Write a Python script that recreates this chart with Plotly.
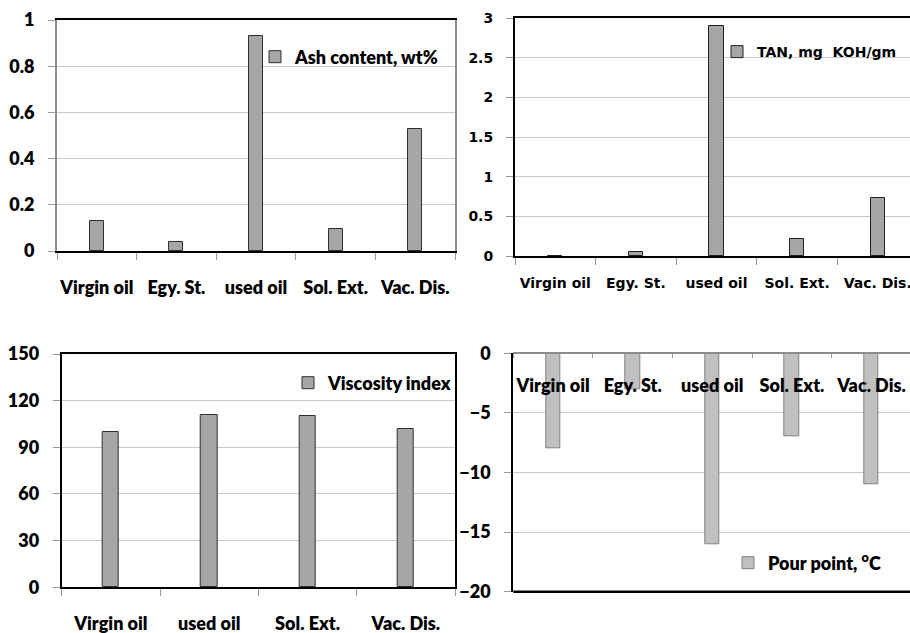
import plotly.graph_objects as go

W, H = 910, 633

# ---------------- data ----------------
cats5 = ["Virgin oil", "Egy. St.", "used oil", "Sol. Ext.", "Vac. Dis."]
cats4 = ["Virgin oil", "used oil", "Sol. Ext.", "Vac. Dis."]
ash = [0.13, 0.037, 0.93, 0.094, 0.53]
tan = [0.0, 0.05, 2.9, 0.21, 0.73]
vi = [100, 111, 110, 102]
pour = [-8, -3, -16, -7, -11]

ash_ticks = [0, 0.2, 0.4, 0.6, 0.8, 1]
ash_labels = ["0", "0.2", "0.4", "0.6", "0.8", "1"]
tan_ticks = [0, 0.5, 1, 1.5, 2, 2.5, 3]
tan_labels = ["0", "0.5", "1", "1.5", "2", "2.5", "3"]
vi_ticks = [0, 30, 60, 90, 120, 150]
pour_ticks = [-20, -15, -10, -5, 0]

CAL = "Lato, 'Liberation Sans', Arial, sans-serif"
VER = "'DejaVu Sans', Verdana, sans-serif"

def dx(a, b):
    return [a / W, b / W]

def dy(top, bottom):
    return [1 - bottom / H, 1 - top / H]

fig = go.Figure()

BAR_DARK = "#A6A6A6"
fig.add_trace(go.Bar(x=cats5, y=ash, name="Ash content, wt%", width=0.175,
                     marker=dict(color=BAR_DARK, line=dict(color="#303030", width=1)),
                     xaxis="x", yaxis="y", legend="legend"))
fig.add_trace(go.Bar(x=cats5, y=tan, name="TAN, mg\u00a0 KOH/gm", width=0.174,
                     marker=dict(color=BAR_DARK, line=dict(color="#202020", width=1)),
                     xaxis="x2", yaxis="y2", legend="legend2"))
fig.add_trace(go.Bar(x=cats4, y=vi, name="Viscosity index", width=0.166,
                     marker=dict(color=BAR_DARK, line=dict(color="#303030", width=1)),
                     xaxis="x3", yaxis="y3", legend="legend3"))
fig.add_trace(go.Bar(x=cats5, y=pour, name="Pour point, <sup>o</sup>C", width=0.18,
                     marker=dict(color="#C0C0C0", line=dict(color="#808080", width=1)),
                     xaxis="x4", yaxis="y4", legend="legend4"))

GRID = "#C8C8C8"
cal_font = dict(family=CAL, size=18, color="black", weight=800)
ver_font = dict(family=VER, size=14, color="black", weight="bold")

common = dict(automargin=False)

# Panel 1
fig.update_layout(
    xaxis=dict(domain=dx(57, 455), anchor="y", type="category", range=[-0.5, 4.5],
               tickson="boundaries", ticks="outside", ticklen=7, tickcolor="#999999",
               showline=True, linecolor="black", linewidth=2, mirror=True, tickangle=0,
               showgrid=False, tickfont=cal_font, ticklabelstandoff=19, **common),
    yaxis=dict(domain=dy(20, 251), anchor="x", range=[0, 1], tickvals=ash_ticks,
               ticktext=ash_labels, ticks="outside", ticklen=7, tickcolor="#999999",
               showline=True, linecolor="#8C8C8C", linewidth=2, mirror=True,
               showgrid=True, gridcolor=GRID, zeroline=False,
               tickfont=cal_font, ticklabelstandoff=10, **common),
)
# Panel 2
fig.update_layout(
    xaxis2=dict(domain=dx(515, 910), anchor="y2", type="category",
                range=[-0.5, -0.5 + 395 / 80.6], tickangle=0,
                tickson="boundaries", ticks="outside", ticklen=7, tickcolor="#999999",
                showline=True, linecolor="black", linewidth=2, mirror=True,
                showgrid=False, tickfont=ver_font, ticklabelstandoff=13, **common),
    yaxis2=dict(domain=dy(18, 256), anchor="x2", range=[0, 3], tickvals=tan_ticks,
                ticktext=tan_labels, ticks="outside", ticklen=7, tickcolor="#999999",
                showline=True, linecolor="black", linewidth=2,
                showgrid=True, gridcolor=GRID, zeroline=False,
                tickfont=ver_font, ticklabelstandoff=10, **common),
)
# Panel 3
fig.update_layout(
    xaxis3=dict(domain=dx(61.7, 455), anchor="y3", type="category", range=[-0.5, 3.5],
                tickson="boundaries", ticks="outside", ticklen=7, tickcolor="#999999",
                showline=True, linecolor="black", linewidth=2, mirror=True, tickangle=0,
                showgrid=False, tickfont=cal_font, ticklabelstandoff=19, **common),
    yaxis3=dict(domain=dy(354, 587.3), anchor="x3", range=[0, 150], tickvals=vi_ticks,
                ticks="outside", ticklen=7, tickcolor="#999999",
                showline=True, linecolor="black", linewidth=2, mirror=True,
                showgrid=True, gridcolor=GRID, zeroline=False,
                tickfont=cal_font, ticklabelstandoff=10, **common),
)
# Panel 4 (category axis sits on the zero line at the top, labels hang below it)
fig.update_layout(
    xaxis4=dict(domain=dx(513.3, 910), anchor="free", position=1 - 353.3 / H,
                side="bottom", type="category", tickangle=0,
                range=[-0.5, -0.5 + 396.7 / 79.6],
                tickson="boundaries", ticks="outside", ticklen=4, tickcolor="#999999",
                showline=True, linecolor="#8C8C8C", linewidth=2,
                showgrid=False, tickfont=cal_font, ticklabelstandoff=16, **common),
    yaxis4=dict(domain=dy(353.3, 591.7), anchor="x4", range=[-20, 0], tickvals=pour_ticks,
                ticks="outside", ticklen=7, tickcolor="#999999",
                showline=True, linecolor="black", linewidth=2,
                showgrid=True, gridcolor=GRID, zeroline=False,
                tickfont=cal_font, ticklabelstandoff=10, **common),
)
# bottom border of panel 4
fig.add_shape(type="line", xref="x4 domain", yref="y4 domain", x0=0, x1=1, y0=0, y1=0,
              line=dict(color="black", width=2.5))

def leg(xpx, ypx, font):
    return dict(x=xpx / W, y=1 - ypx / H, xref="paper", yref="paper",
                xanchor="left", yanchor="middle",
                bgcolor="rgba(0,0,0,0)", borderwidth=0, font=font,
                itemwidth=30, tracegroupgap=0)

fig.update_layout(
    legend=leg(255, 57, cal_font),
    legend2=leg(717, 52, ver_font),
    legend3=leg(288, 383, cal_font),
    legend4=leg(728, 563, cal_font),
    width=W, height=H, margin=dict(l=0, r=0, t=0, b=0, autoexpand=False),
    paper_bgcolor="white", plot_bgcolor="white", bargap=0, showlegend=True,
)

fig.write_html("out.html")
